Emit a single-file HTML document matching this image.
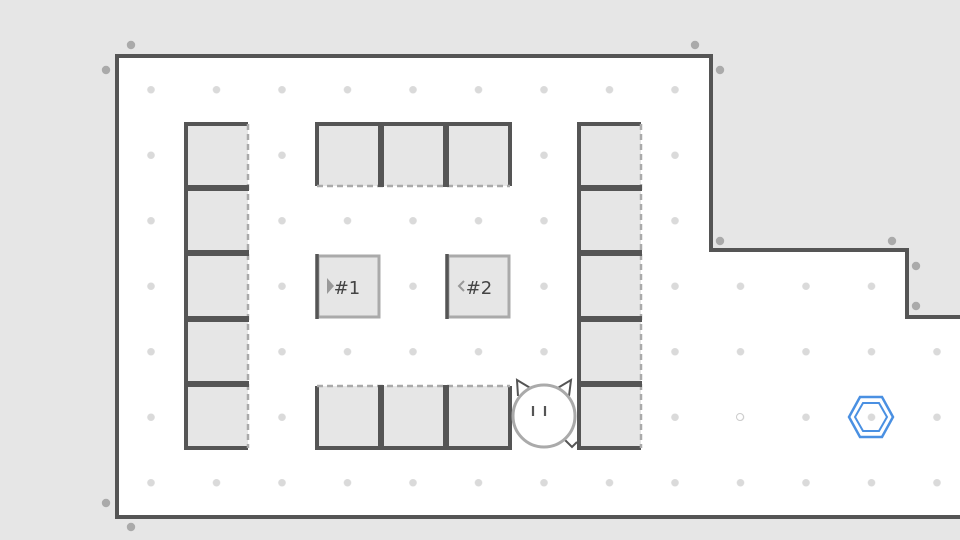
<!DOCTYPE html>
<html><head><meta charset="utf-8"><style>
html,body{margin:0;padding:0;background:#e6e6e6;}
svg{display:block}
</style></head><body>
<svg width="960" height="540" viewBox="0 0 960 540" xmlns="http://www.w3.org/2000/svg">
<defs>
<pattern id="dots" patternUnits="userSpaceOnUse" x="118.25" y="57" width="65.5" height="65.5">
<circle cx="32.75" cy="32.75" r="3.8" fill="#dadada"/>
</pattern>
</defs>
<rect width="960" height="540" fill="#e6e6e6"/>
<path d="M117,56 L711,56 L711,250 L907,250 L907,317 L962,317 L962,517 L117,517 Z" fill="#fff"/>
<path d="M117,56 L711,56 L711,250 L907,250 L907,317 L962,317 L962,517 L117,517 Z" fill="url(#dots)"/>
<path d="M117,56 L711,56 L711,250 L907,250 L907,317 L962,317 L962,517 L117,517 Z" fill="none" stroke="#555" stroke-width="4"/>
<g fill="#aaa">
<circle cx="131" cy="45" r="4.2"/><circle cx="106" cy="70" r="4.2"/>
<circle cx="695" cy="45" r="4.2"/><circle cx="720" cy="70" r="4.2"/>
<circle cx="720" cy="241" r="4.2"/><circle cx="892" cy="241" r="4.2"/>
<circle cx="916" cy="266" r="4.2"/><circle cx="916" cy="306" r="4.2"/>
<circle cx="106" cy="503" r="4.2"/><circle cx="131" cy="527" r="4.2"/>
</g>
<circle cx="740" cy="417" r="3.5" fill="#fff" stroke="#ccc" stroke-width="1"/>

<g>
<rect x="186" y="124" width="62" height="324" fill="#e6e6e6"/>
<path d="M248,124 L186,124 L186,448 L248,448" fill="none" stroke="#555" stroke-width="4"/>
<line x1="248" y1="124" x2="248" y2="448" stroke="#aaa" stroke-width="2.5" stroke-dasharray="6,4"/>
<g stroke="#555" stroke-width="6">
<line x1="186" y1="188" x2="249" y2="188"/><line x1="186" y1="253" x2="249" y2="253"/>
<line x1="186" y1="319" x2="249" y2="319"/><line x1="186" y1="384" x2="249" y2="384"/>
</g>
</g>
<g>
<rect x="579" y="124" width="62" height="324" fill="#e6e6e6"/>
<path d="M641,124 L579,124 L579,448 L641,448" fill="none" stroke="#555" stroke-width="4"/>
<line x1="641" y1="124" x2="641" y2="448" stroke="#aaa" stroke-width="2.5" stroke-dasharray="6,4"/>
<g stroke="#555" stroke-width="6">
<line x1="579" y1="188" x2="642" y2="188"/><line x1="579" y1="253" x2="642" y2="253"/>
<line x1="579" y1="319" x2="642" y2="319"/><line x1="579" y1="384" x2="642" y2="384"/>
</g>
</g>
<g>
<rect x="317" y="124" width="193" height="62" fill="#e6e6e6"/>
<path d="M317,186 L317,124 L510,124 L510,186" fill="none" stroke="#555" stroke-width="4"/>
<line x1="317" y1="186" x2="510" y2="186" stroke="#aaa" stroke-width="2.5" stroke-dasharray="6,4"/>
<g stroke="#555" stroke-width="6">
<line x1="381" y1="124" x2="381" y2="187"/><line x1="446" y1="124" x2="446" y2="187"/>
</g>
</g>
<g>
<rect x="317" y="386" width="193" height="62" fill="#e6e6e6"/>
<path d="M317,386 L317,448 L510,448 L510,386" fill="none" stroke="#555" stroke-width="4"/>
<line x1="317" y1="386" x2="510" y2="386" stroke="#aaa" stroke-width="2.5" stroke-dasharray="6,4"/>
<g stroke="#555" stroke-width="6">
<line x1="381" y1="385" x2="381" y2="448"/><line x1="446" y1="385" x2="446" y2="448"/>
</g>
</g>
<rect x="318" y="256" width="61" height="61" fill="#e6e6e6" stroke="#aaa" stroke-width="3"/>
<line x1="317" y1="254" x2="317" y2="319" stroke="#555" stroke-width="3.5"/>
<path d="M327,278 L334,286 L327,294 Z" fill="#999"/>
<text x="347" y="294" font-family="DejaVu Sans, sans-serif" font-size="18" fill="#444" text-anchor="middle">#1</text>
<rect x="448" y="256" width="61" height="61" fill="#e6e6e6" stroke="#aaa" stroke-width="3"/>
<line x1="447" y1="254" x2="447" y2="319" stroke="#555" stroke-width="3.5"/>
<path d="M464,281 L459,286 L464,291" fill="none" stroke="#999" stroke-width="2"/>
<text x="479" y="294" font-family="DejaVu Sans, sans-serif" font-size="18" fill="#444" text-anchor="middle">#2</text>
<path d="M518,396 L517,380 L532,389" fill="none" stroke="#555" stroke-width="2"/>
<path d="M556,389 L571,380 L569,396" fill="none" stroke="#555" stroke-width="2"/>
<path d="M565,440 L572,447 L577,442" fill="none" stroke="#555" stroke-width="2"/>
<circle cx="544" cy="416" r="31" fill="#fff" stroke="#aaa" stroke-width="3"/>
<line x1="533" y1="406" x2="533" y2="416" stroke="#555" stroke-width="2.2"/>
<line x1="545" y1="406" x2="545" y2="416" stroke="#555" stroke-width="2.2"/>
<polygon points="860,397 882,397 893,417 882,437 860,437 849,417" fill="none" stroke="#4a90e2" stroke-width="2.5"/>
<polygon points="863,403 879,403 887,417 879,431 863,431 855,417" fill="none" stroke="#4a90e2" stroke-width="2"/>
</svg>
</body></html>
